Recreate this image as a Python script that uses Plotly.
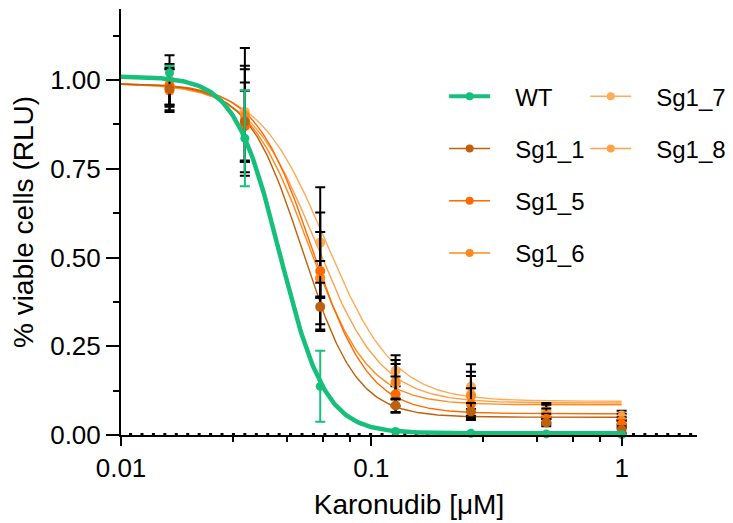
import numpy as np
import plotly.graph_objects as go

# Karonudib concentrations (µM)
dose = [0.015625, 0.03125, 0.0625, 0.125, 0.25, 0.5, 1.0]

series = ["WT", "Sg1_1", "Sg1_5", "Sg1_6", "Sg1_7", "Sg1_8"]
colors = ["#17bf7c", "#c0600c", "#ff6a00", "#ff8a1c", "#ffab58", "#ffa14a"]

# mean viability (RLU, normalised) and SD per line
wt_mean = [1.02, 0.836, 0.137, 0.010, 0.005, 0.003, 0.001]
wt_sd = [0.02, 0.135, 0.10, 0.0, 0.0, 0.0, 0.0]
sg1_1_mean = [0.975, 0.883, 0.361, 0.083, 0.066, 0.035, 0.015]
sg1_1_sd = [0.06, 0.11, 0.068, 0.02, 0.024, 0.01, 0.01]
sg1_5_mean = [0.985, 0.87, 0.462, 0.115, 0.087, 0.045, 0.030]
sg1_5_sd = [0.06, 0.10, 0.165, 0.05, 0.045, 0.015, 0.01]
sg1_6_mean = [0.97, 0.90, 0.442, 0.150, 0.110, 0.055, 0.040]
sg1_6_sd = [0.06, 0.13, 0.13, 0.05, 0.056, 0.02, 0.01]
sg1_7_mean = [1.00, 0.91, 0.542, 0.181, 0.136, 0.070, 0.055]
sg1_7_sd = [0.07, 0.18, 0.156, 0.044, 0.063, 0.02, 0.013]
sg1_8_mean = [0.98, 0.89, 0.440, 0.146, 0.113, 0.065, 0.050]
sg1_8_sd = [0.05, 0.15, 0.05, 0.065, 0.065, 0.02, 0.01]

means = [wt_mean, sg1_1_mean, sg1_5_mean, sg1_6_mean, sg1_7_mean, sg1_8_mean]
sds = [wt_sd, sg1_1_sd, sg1_5_sd, sg1_6_sd, sg1_7_sd, sg1_8_sd]

# four-parameter logistic fit per line: top, bottom, IC50 (µM), Hill slope
fit_top = [1.01, 0.99, 0.99, 0.99, 0.99, 0.99]
fit_bottom = [0.005, 0.05, 0.06, 0.085, 0.095, 0.09]
fit_ic50 = [0.0432, 0.053, 0.058, 0.056, 0.066, 0.060]
fit_hill = [4.82, 4.0, 3.8, 3.6, 3.2, 3.3]

curve_x = np.logspace(-2, 0, 300)


def logistic(x, top, bottom, ic50, hill):
    return bottom + (top - bottom) / (1.0 + (x / ic50) ** hill)


fig = go.Figure()

# fitted curves of the knockout lines, then their points with SD bars
order = [4, 5, 3, 2, 1]
for i in order:
    fig.add_trace(go.Scatter(
        x=curve_x, y=logistic(curve_x, fit_top[i], fit_bottom[i], fit_ic50[i], fit_hill[i]),
        mode="lines", line=dict(color=colors[i], width=1.4),
        showlegend=False, hoverinfo="skip", cliponaxis=False))
for i in order:
    fig.add_trace(go.Scatter(
        x=dose, y=means[i], mode="markers",
        marker=dict(color=colors[i], size=10),
        error_y=dict(type="data", array=sds[i], color="black", thickness=2, width=5),
        showlegend=False, cliponaxis=False))

# wild type on top
fig.add_trace(go.Scatter(
    x=curve_x, y=logistic(curve_x, fit_top[0], fit_bottom[0], fit_ic50[0], fit_hill[0]),
    mode="lines", line=dict(color=colors[0], width=4.5),
    showlegend=False, hoverinfo="skip", cliponaxis=False))
fig.add_trace(go.Scatter(
    x=dose, y=means[0], mode="markers",
    marker=dict(color=colors[0], size=9),
    error_y=dict(type="data", array=sds[0], color=colors[0], thickness=2, width=5),
    showlegend=False, cliponaxis=False))

# legend entries (line + dot), split over two columns
pad = "\u00a0\u00a0\u00a0"
for i, name in enumerate(series):
    fig.add_trace(go.Scatter(
        x=[None], y=[None], mode="lines+markers", name=pad + name,
        line=dict(color=colors[i], width=4 if i == 0 else 1.5),
        marker=dict(color=colors[i], size=8),
        legendgroup=name,
        legend="legend" if i < 4 else "legend2"))

x_minor = [0.028, 0.046, 0.064, 0.082, 0.28, 0.46, 0.64, 0.82]
y_minor = [0.125, 0.375, 0.625, 0.875, 1.125]

legend_common = dict(
    xanchor="left", yanchor="top", bgcolor="rgba(0,0,0,0)",
    font=dict(size=24, color="black"), tracegroupgap=18, itemwidth=41,
)

fig.update_layout(
    width=733, height=523,
    margin=dict(l=121, r=36, t=9, b=88, autoexpand=False),
    plot_bgcolor="white", paper_bgcolor="white",
    font=dict(family="Liberation Sans, Arial, sans-serif", size=23, color="black"),
    xaxis=dict(
        type="log", range=[-2, np.log10(2.0)],
        tickvals=[0.01, 0.1, 1], ticktext=["0.01", "0.1", "1"],
        tickfont=dict(size=26),
        ticks="outside", ticklen=9, tickwidth=2, tickcolor="black",
        showline=True, linewidth=2, linecolor="black",
        showgrid=False, zeroline=False,
        minor=dict(tickvals=x_minor, ticks="outside", ticklen=5, tickwidth=2,
                   tickcolor="black", showgrid=False),
        title=dict(text="Karonudib [μM]", standoff=12),
    ),
    yaxis=dict(
        range=[0, 1.2],
        tickvals=[0, 0.25, 0.5, 0.75, 1.0],
        ticktext=["0.00", "0.25", "0.50", "0.75", "1.00"],
        tickfont=dict(size=26),
        ticks="outside", ticklen=13, tickwidth=2, tickcolor="black",
        showline=True, linewidth=2, linecolor="black",
        showgrid=False, zeroline=False,
        minor=dict(tickvals=y_minor, ticks="outside", ticklen=6, tickwidth=2,
                   tickcolor="black", showgrid=False),
        title=dict(text="% viable cells (RLU)", standoff=8),
    ),
    legend=dict(x=0.561, y=0.847, **legend_common),
    legend2=dict(x=0.806, y=0.847, **legend_common),
    shapes=[dict(
        type="line", xref="paper", yref="y", x0=0.014, x1=1, y0=0, y1=0,
        line=dict(color="black", width=4, dash="3px,8.43px"), layer="below",
    )],
)

fig.write_html("out.html")
